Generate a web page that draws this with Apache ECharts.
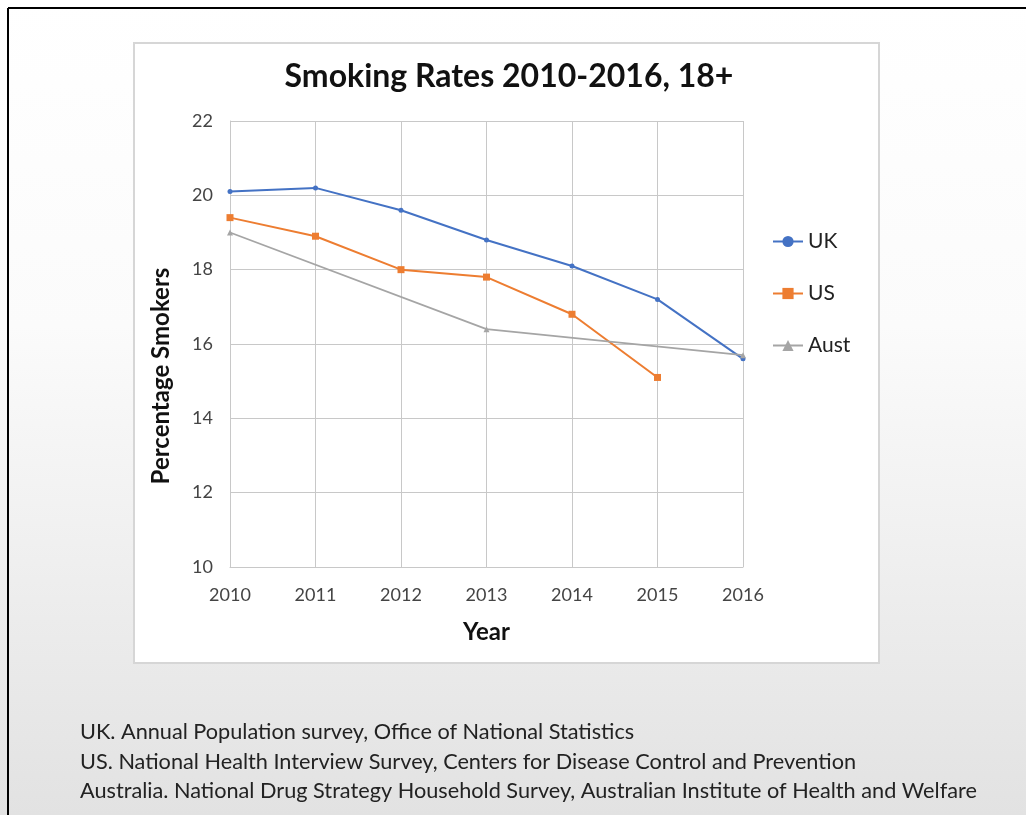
<!DOCTYPE html>
<html>
<head>
<meta charset="utf-8">
<script src="https://cdn.jsdelivr.net/npm/echarts@6/dist/echarts.min.js"></script>
<style>
html,body{margin:0;padding:0;}
#main{width:1026px;height:815px;}
</style>
</head>
<body>
<div id="main"></div>
<script>
const years = ['2010','2011','2012','2013','2014','2015','2016'];
const ukValues = [20.1, 20.2, 19.6, 18.8, 18.1, 17.2, 15.6];
const usValues = [19.4, 18.9, 18.0, 17.8, 16.8, 15.1, null];
const austValues = [19.0, null, null, 16.4, null, null, 15.7];
const seriesNames = ['UK', 'US', 'Aust'];
const footnotes = [
  'UK. Annual Population survey, Office of National Statistics',
  'US. National Health Interview Survey, Centers for Disease Control and Prevention',
  'Australia. National Drug Strategy Household Survey, Australian Institute of Health and Welfare'
];

const FONT = 'Lato';
const chart = echarts.init(document.getElementById('main'), null, {renderer: 'canvas'});

const graphics = [
  {type: 'rect', shape: {x: 134, y: 43, width: 745, height: 620}, style: {fill: '#ffffff', stroke: '#d6d6d6', lineWidth: 2}, z: -10},
  {type: 'line', shape: {x1: 8, y1: 8, x2: 1026, y2: 8}, style: {stroke: '#000', lineWidth: 2}},
  {type: 'line', shape: {x1: 8, y1: 8, x2: 8, y2: 815}, style: {stroke: '#000', lineWidth: 2}},
  {type: 'text', x: 161, y: 376, rotation: Math.PI / 2,
    style: {text: 'Percentage Smokers', fill: '#111', font: 'bold 24px ' + FONT, align: 'center', verticalAlign: 'middle'}}
];
const footY = [732, 762, 791];
footnotes.forEach(function (t, i) {
  graphics.push({type: 'text', x: 80, y: footY[i], style: {text: t, fill: '#222', font: '21.7px ' + FONT, verticalAlign: 'middle'}});
});

chart.setOption({
  backgroundColor: {
    type: 'linear', x: 0, y: 0, x2: 0, y2: 1,
    colorStops: [{offset: 0, color: '#ffffff'}, {offset: 0.4, color: '#fbfbfb'}, {offset: 1, color: '#e2e2e2'}]
  },
  animation: false,
  graphic: graphics,
  title: {
    text: 'Smoking Rates 2010-2016, 18+',
    left: 504, top: 56, textAlign: 'center',
    textStyle: {fontFamily: FONT, fontWeight: 'bold', fontSize: 32, color: '#111'}
  },
  legend: {
    orient: 'vertical', left: 767, top: 226, itemGap: 31,
    itemWidth: 30, itemHeight: 14,
    textStyle: {fontFamily: FONT, fontSize: 21, color: '#222'},
    data: seriesNames
  },
  grid: {left: 230, top: 121, right: 283, bottom: 248},
  xAxis: {
    type: 'category', data: years, boundaryGap: false,
    name: 'Year', nameLocation: 'middle', nameGap: 53,
    nameTextStyle: {fontFamily: FONT, fontWeight: 'bold', fontSize: 24, color: '#111'},
    axisLine: {show: true, lineStyle: {color: '#c8c8c8'}},
    axisTick: {show: false},
    axisLabel: {fontFamily: FONT, fontSize: 18, color: '#444', margin: 19},
    splitLine: {show: true, lineStyle: {color: '#c8c8c8', width: 1}}
  },
  yAxis: {
    type: 'value', min: 10, max: 22, interval: 2,
    axisLine: {show: true, lineStyle: {color: '#c8c8c8'}},
    axisTick: {show: false},
    axisLabel: {fontFamily: FONT, fontSize: 18, color: '#444', margin: 17},
    splitLine: {show: true, lineStyle: {color: '#c8c8c8', width: 1}}
  },
  series: [
    {name: 'UK', type: 'line', data: ukValues, symbol: 'circle', symbolSize: 5,
      lineStyle: {color: '#4472C4', width: 2}, itemStyle: {color: '#4472C4'}},
    {name: 'US', type: 'line', data: usValues, symbol: 'rect', symbolSize: 7,
      lineStyle: {color: '#ED7D31', width: 2}, itemStyle: {color: '#ED7D31'}},
    {name: 'Aust', type: 'line', data: austValues, connectNulls: true, symbol: 'triangle', symbolSize: 6,
      lineStyle: {color: '#A5A5A5', width: 1.8}, itemStyle: {color: '#A5A5A5'}}
  ]
});
</script>
</body>
</html>
